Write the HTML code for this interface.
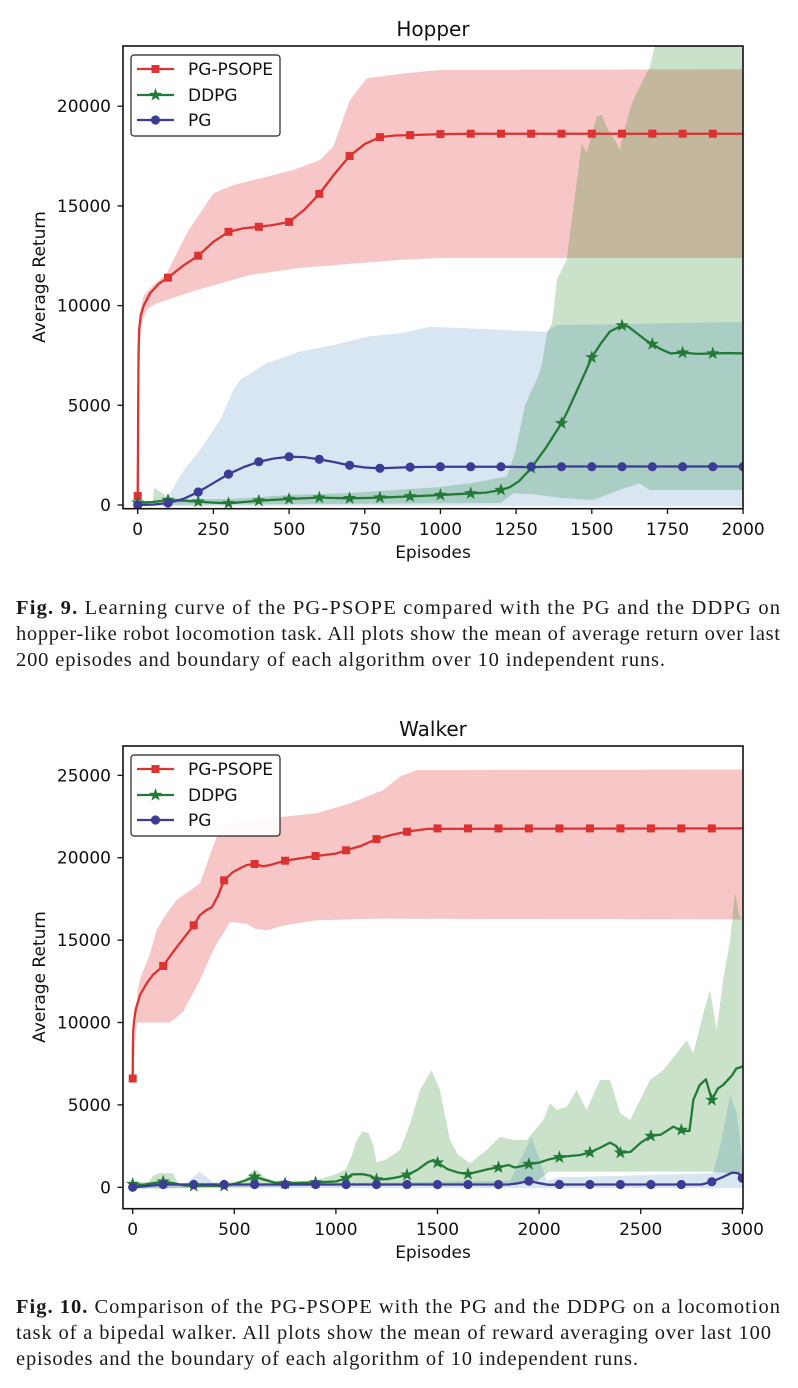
<!DOCTYPE html>
<html>
<head>
<meta charset="utf-8">
<style>
html,body{margin:0;padding:0;background:#fff;}
body{width:798px;height:1388px;overflow:hidden;position:relative;}
svg{position:absolute;left:0;top:0;}
.ax{font-family:"DejaVu Sans","Liberation Sans",sans-serif;font-size:17px;fill:#111;}
.ttl{font-family:"DejaVu Sans","Liberation Sans",sans-serif;font-size:20px;fill:#111;}
.cap{font-family:"Liberation Serif",serif;font-size:20.5px;fill:#1a1a1a;}
.ln{fill:none;stroke-width:2.3;vector-effect:non-scaling-stroke;stroke-linejoin:round;stroke-linecap:round;}
</style>
</head>
<body>
<svg width="798" height="1388" viewBox="0 0 798 1388" xmlns="http://www.w3.org/2000/svg">
<defs>
<clipPath id="c1"><rect x="123" y="46" width="620" height="462.7"/></clipPath>
<clipPath id="c2"><rect x="123" y="746" width="620" height="462.7"/></clipPath>
<rect id="sq" x="-4" y="-4" width="8" height="8" fill="#dc3232"/>
<circle id="ci" r="4.6" fill="#3c3c96"/>
<polygon id="st" points="0,-7 1.65,-2.27 6.66,-2.16 2.66,0.87 4.11,5.66 0,2.8 -4.11,5.66 -2.66,0.87 -6.66,-2.16 -1.65,-2.27" fill="#237a37"/>
</defs>

<!-- ===================== HOPPER ===================== -->
<text class="ttl" x="433" y="36" text-anchor="middle">Hopper</text>
<g clip-path="url(#c1)">
 <g transform="translate(137.7 505) scale(0.3027 -0.01994)">
  <polygon fill="rgb(225,45,45)" fill-opacity="0.27" points="0,500 2,8500 5,9500 20,10500 50,11000 96,11620 162,13630 250,15630 316,16050 426,16460 514,16800 602,17300 646,17970 701,20310 757,21400 866,21620 1000,21820 2000,21850 2000,12390 1000,12390 866,12290 700,12090 536,11890 370,11530 200,10800 100,10300 60,10100 30,9800 10,9000 3,6500 0,0"/>
  <polygon fill="rgb(40,140,40)" fill-opacity="0.25" points="0,150 50,150 55,900 60,800 80,600 100,350 150,300 300,300 500,500 700,600 900,800 1000,900 1100,1100 1219,1420 1246,2600 1280,5000 1302,5770 1318,6270 1335,7000 1352,8630 1369,9130 1385,11280 1417,12290 1440,15000 1467,18140 1483,17640 1516,19470 1533,19560 1549,18970 1582,18140 1593,17800 1604,18640 1626,19810 1637,20310 1692,21980 1708,23000 1730,25000 2000,25000 2000,750 1690,750 1658,1090 1600,800 1505,250 1400,350 1300,550 1241,590 1200,100 0,0"/>
  <polygon fill="rgb(31,119,180)" fill-opacity="0.18" points="0,0 80,0 107,590 150,1700 206,2760 272,4260 316,5770 338,6270 426,7110 536,7690 646,8020 757,8440 866,8610 966,8930 1100,8860 1197,8780 1351,8690 1384,9030 1527,9050 2000,9190 2000,-50 0,-50"/>
  <polyline class="ln" stroke="#dc3232" points="0,450 1,3000 2,6000 3,7800 5,8800 10,9500 20,10000 40,10600 70,11100 100,11400 150,12000 200,12500 250,13200 300,13700 350,13880 400,13950 450,14050 500,14200 550,14800 600,15600 650,16600 700,17500 750,18100 800,18450 850,18530 900,18550 1000,18600 1100,18620 2000,18620"/>
  <polyline class="ln" stroke="#237a37" points="0,115 50,150 100,250 150,220 200,170 250,120 300,85 350,150 400,215 450,260 500,300 550,340 600,370 650,350 700,335 750,350 800,370 850,400 900,430 1000,500 1100,580 1150,620 1200,750 1230,900 1260,1200 1300,1850 1350,2900 1400,4100 1420,4700 1450,5700 1480,6700 1500,7400 1530,8100 1560,8700 1600,9000 1620,8950 1650,8600 1680,8250 1700,8070 1730,7800 1760,7600 1800,7640 1850,7580 1900,7600 1950,7620 2000,7600"/>
  <polyline class="ln" stroke="#3c3c96" points="0,0 50,20 100,100 150,300 200,650 250,1100 300,1550 350,1900 400,2170 450,2330 500,2420 550,2400 600,2290 650,2150 700,1990 750,1880 800,1840 900,1900 1000,1920 1200,1920 1300,1900 1400,1930 2000,1930"/>
 </g>
 <use href="#sq" x="137.7" y="496.0"/><use href="#sq" x="168.0" y="277.7"/><use href="#sq" x="198.2" y="255.7"/><use href="#sq" x="228.5" y="231.8"/><use href="#sq" x="258.8" y="226.8"/><use href="#sq" x="289.1" y="221.9"/><use href="#sq" x="319.3" y="193.9"/><use href="#sq" x="349.6" y="156.0"/><use href="#sq" x="379.9" y="137.1"/><use href="#sq" x="410.1" y="135.1"/><use href="#sq" x="440.4" y="134.1"/><use href="#sq" x="470.7" y="133.7"/><use href="#sq" x="501.0" y="133.7"/><use href="#sq" x="531.2" y="133.7"/><use href="#sq" x="561.5" y="133.7"/><use href="#sq" x="591.8" y="133.7"/><use href="#sq" x="622.0" y="133.7"/><use href="#sq" x="652.3" y="133.7"/><use href="#sq" x="682.6" y="133.7"/><use href="#sq" x="712.8" y="133.7"/>
 <use href="#st" x="137.7" y="502.7"/><use href="#st" x="168.0" y="500.0"/><use href="#st" x="198.2" y="501.6"/><use href="#st" x="228.5" y="503.3"/><use href="#st" x="258.8" y="500.7"/><use href="#st" x="289.1" y="499.0"/><use href="#st" x="319.3" y="497.6"/><use href="#st" x="349.6" y="498.3"/><use href="#st" x="379.9" y="497.6"/><use href="#st" x="410.1" y="496.4"/><use href="#st" x="440.4" y="495.0"/><use href="#st" x="470.7" y="493.4"/><use href="#st" x="501.0" y="490.0"/><use href="#st" x="531.2" y="468.1"/><use href="#st" x="561.5" y="423.2"/><use href="#st" x="591.8" y="357.4"/><use href="#st" x="622.0" y="325.5"/><use href="#st" x="652.3" y="344.1"/><use href="#st" x="682.6" y="352.7"/><use href="#st" x="712.8" y="353.5"/>
 <use href="#ci" x="137.7" y="505.0"/><use href="#ci" x="168.0" y="503.0"/><use href="#ci" x="198.2" y="492.0"/><use href="#ci" x="228.5" y="474.1"/><use href="#ci" x="258.8" y="461.7"/><use href="#ci" x="289.1" y="456.7"/><use href="#ci" x="319.3" y="459.3"/><use href="#ci" x="349.6" y="465.3"/><use href="#ci" x="379.9" y="468.3"/><use href="#ci" x="410.1" y="467.1"/><use href="#ci" x="440.4" y="466.7"/><use href="#ci" x="470.7" y="466.7"/><use href="#ci" x="501.0" y="466.7"/><use href="#ci" x="531.2" y="466.7"/><use href="#ci" x="561.5" y="466.7"/><use href="#ci" x="591.8" y="466.7"/><use href="#ci" x="622.0" y="466.7"/><use href="#ci" x="652.3" y="466.7"/><use href="#ci" x="682.6" y="466.7"/><use href="#ci" x="712.8" y="466.7"/><use href="#ci" x="743.1" y="466.7"/>
</g>
<rect x="123" y="46" width="620" height="462.7" fill="none" stroke="#111" stroke-width="1.6"/>
<g stroke="#111" stroke-width="1.3">
 <line x1="117.5" y1="505" x2="123" y2="505"/><line x1="117.5" y1="405.3" x2="123" y2="405.3"/><line x1="117.5" y1="305.6" x2="123" y2="305.6"/><line x1="117.5" y1="205.9" x2="123" y2="205.9"/><line x1="117.5" y1="106.2" x2="123" y2="106.2"/>
 <line x1="137.7" y1="508.7" x2="137.7" y2="514"/><line x1="213.4" y1="508.7" x2="213.4" y2="514"/><line x1="289.1" y1="508.7" x2="289.1" y2="514"/><line x1="364.8" y1="508.7" x2="364.8" y2="514"/><line x1="440.4" y1="508.7" x2="440.4" y2="514"/><line x1="516.1" y1="508.7" x2="516.1" y2="514"/><line x1="591.8" y1="508.7" x2="591.8" y2="514"/><line x1="667.5" y1="508.7" x2="667.5" y2="514"/><line x1="743.1" y1="508.7" x2="743.1" y2="514"/>
</g>
<g class="ax" text-anchor="end">
 <text x="111" y="511">0</text><text x="111" y="411.3">5000</text><text x="111" y="311.6">10000</text><text x="111" y="211.9">15000</text><text x="111" y="112.2">20000</text>
</g>
<g class="ax" text-anchor="middle">
 <text x="137.7" y="535">0</text><text x="213.4" y="535">250</text><text x="289.1" y="535">500</text><text x="364.8" y="535">750</text><text x="440.4" y="535">1000</text><text x="516.1" y="535">1250</text><text x="591.8" y="535">1500</text><text x="667.5" y="535">1750</text><text x="743.1" y="535">2000</text>
 <text x="433" y="558">Episodes</text>
 <text transform="translate(45 277) rotate(-90)" x="0" y="0">Average Return</text>
</g>
<rect x="131" y="55" width="149" height="81" rx="3" fill="#fff" fill-opacity="0.9" stroke="#222" stroke-width="1.2"/>
<line x1="137" y1="69" x2="174" y2="69" stroke="#dc3232" stroke-width="2.3"/><use href="#sq" x="155.5" y="69"/>
<line x1="137" y1="95" x2="174" y2="95" stroke="#237a37" stroke-width="2.3"/><use href="#st" x="155.5" y="95"/>
<line x1="137" y1="120" x2="174" y2="120" stroke="#3c3c96" stroke-width="2.3"/><use href="#ci" x="155.5" y="120"/>
<g class="ax"><text x="188" y="75">PG-PSOPE</text><text x="188" y="101">DDPG</text><text x="188" y="126">PG</text></g>

<text class="cap" x="16" y="614" textLength="764" lengthAdjust="spacing"><tspan font-weight="bold">Fig. 9.</tspan> Learning curve of the PG-PSOPE compared with the PG and the DDPG on</text>
<text class="cap" x="16" y="640" textLength="764" lengthAdjust="spacing">hopper-like robot locomotion task. All plots show the mean of average return over last</text>
<text class="cap" x="16" y="666" textLength="649" lengthAdjust="spacing">200 episodes and boundary of each algorithm over 10 independent runs.</text>

<!-- ===================== WALKER ===================== -->
<text class="ttl" x="433" y="736" text-anchor="middle">Walker</text>
<g clip-path="url(#c2)">
 <g transform="translate(132.7 1187.3) scale(0.2032 -0.01648)">
  <polygon fill="rgb(225,45,45)" fill-opacity="0.27" points="0,6600 15,10000 25,12000 40,12800 80,14000 118,15610 160,16500 216,17430 280,18000 331,18440 370,19800 413,21270 462,21980 560,22250 660,22390 905,22700 1070,23300 1233,24110 1315,24920 1400,25320 3000,25350 3000,16250 1200,16300 900,16200 750,15900 660,15600 600,15700 560,16000 480,16100 400,14500 331,12580 248,10650 184,10000 20,10000 0,6600"/>
  <polygon fill="rgb(40,140,40)" fill-opacity="0.25" points="0,300 80,350 100,700 130,850 200,850 220,250 300,250 450,300 550,400 580,900 610,1050 650,600 700,400 900,400 950,600 1000,800 1050,1100 1080,2000 1100,2800 1130,3370 1160,3300 1185,2500 1200,1500 1250,1700 1315,2260 1365,3880 1414,5900 1471,7120 1512,5900 1561,2870 1600,2000 1660,1460 1742,2260 1808,3070 1873,2870 1939,2870 2021,4080 2054,5100 2087,4700 2136,4890 2185,5900 2234,4700 2300,6510 2349,6510 2399,4490 2448,4080 2497,5300 2546,6510 2611,7120 2677,8130 2726,8940 2759,8130 2808,10560 2841,11970 2874,9550 2906,12580 2940,15000 2964,17840 2985,16500 3000,16200 3000,800 2900,900 2850,950 2050,950 1980,300 0,-100"/>
  <polygon fill="rgb(31,119,180)" fill-opacity="0.18" points="0,100 250,150 268,300 330,950 396,300 450,150 1857,400 1963,3070 2038,400 2100,600 2857,850 2900,3000 2940,5600 2973,4490 2997,2000 3000,1500 3000,-50 0,-50"/>
  <polyline class="ln" stroke="#dc3232" points="0,6600 1,8500 3,9500 6,10000 15,10800 36,11670 70,12400 100,12900 150,13430 200,14300 250,15100 300,15900 330,16500 360,16800 390,17000 420,17700 450,18630 490,19100 528,19360 560,19550 600,19620 640,19480 675,19550 750,19820 900,20100 1000,20250 1050,20450 1120,20700 1200,21130 1280,21400 1350,21580 1450,21750 3000,21780"/>
  <polyline class="ln" stroke="#237a37" points="0,200 50,150 100,250 150,340 200,250 250,120 300,80 350,100 400,90 450,80 500,200 550,400 600,640 650,450 700,280 750,240 800,260 900,300 1000,350 1050,550 1080,780 1130,800 1170,700 1200,480 1250,500 1300,600 1350,750 1400,1050 1450,1500 1480,1660 1500,1500 1550,1100 1600,900 1650,800 1700,950 1750,1100 1800,1210 1850,1350 1880,1200 1920,1300 1950,1410 2000,1500 2050,1700 2100,1820 2150,1900 2200,1950 2250,2120 2300,2400 2349,2710 2380,2500 2400,2100 2450,2150 2500,2700 2550,3110 2600,3200 2661,3680 2700,3420 2740,3420 2759,5300 2790,6200 2821,6550 2850,5300 2880,6000 2906,6210 2950,6800 2970,7200 3000,7320"/>
  <polyline class="ln" stroke="#3c3c96" points="0,0 150,170 1850,170 1900,250 1950,380 2000,250 2050,150 2100,170 2800,170 2850,340 2900,600 2950,890 2980,850 3000,560"/>
 </g>
 <use href="#sq" x="132.7" y="1078.5"/><use href="#sq" x="163.2" y="966.0"/><use href="#sq" x="193.7" y="925.3"/><use href="#sq" x="224.1" y="880.3"/><use href="#sq" x="254.6" y="864.0"/><use href="#sq" x="285.1" y="860.7"/><use href="#sq" x="315.6" y="856.0"/><use href="#sq" x="346.1" y="850.3"/><use href="#sq" x="376.5" y="839.1"/><use href="#sq" x="407.0" y="831.7"/><use href="#sq" x="437.5" y="828.4"/><use href="#sq" x="468.0" y="828.4"/><use href="#sq" x="498.5" y="828.4"/><use href="#sq" x="528.9" y="828.4"/><use href="#sq" x="559.4" y="828.4"/><use href="#sq" x="589.9" y="828.4"/><use href="#sq" x="620.4" y="828.4"/><use href="#sq" x="650.9" y="828.4"/><use href="#sq" x="681.3" y="828.4"/><use href="#sq" x="711.8" y="828.4"/>
 <use href="#st" x="132.7" y="1184.0"/><use href="#st" x="163.2" y="1181.7"/><use href="#st" x="193.7" y="1186.0"/><use href="#st" x="224.1" y="1186.0"/><use href="#st" x="254.6" y="1176.8"/><use href="#st" x="285.1" y="1183.3"/><use href="#st" x="315.6" y="1182.4"/><use href="#st" x="346.1" y="1178.2"/><use href="#st" x="376.5" y="1179.4"/><use href="#st" x="407.0" y="1174.9"/><use href="#st" x="437.5" y="1162.6"/><use href="#st" x="468.0" y="1174.1"/><use href="#st" x="498.5" y="1167.4"/><use href="#st" x="528.9" y="1164.2"/><use href="#st" x="559.4" y="1157.3"/><use href="#st" x="589.9" y="1152.4"/><use href="#st" x="620.4" y="1152.7"/><use href="#st" x="650.9" y="1136.0"/><use href="#st" x="681.3" y="1130.0"/><use href="#st" x="711.8" y="1100.0"/>
 <use href="#ci" x="132.7" y="1187.3"/><use href="#ci" x="163.2" y="1184.5"/><use href="#ci" x="193.7" y="1184.5"/><use href="#ci" x="224.1" y="1184.5"/><use href="#ci" x="254.6" y="1184.5"/><use href="#ci" x="285.1" y="1184.5"/><use href="#ci" x="315.6" y="1184.5"/><use href="#ci" x="346.1" y="1184.5"/><use href="#ci" x="376.5" y="1184.5"/><use href="#ci" x="407.0" y="1184.5"/><use href="#ci" x="437.5" y="1184.5"/><use href="#ci" x="468.0" y="1184.5"/><use href="#ci" x="498.5" y="1184.5"/><use href="#ci" x="528.9" y="1181.0"/><use href="#ci" x="559.4" y="1184.5"/><use href="#ci" x="589.9" y="1184.5"/><use href="#ci" x="620.4" y="1184.5"/><use href="#ci" x="650.9" y="1184.5"/><use href="#ci" x="681.3" y="1184.5"/><use href="#ci" x="711.8" y="1181.7"/><use href="#ci" x="742.3" y="1178.1"/>
</g>
<rect x="123" y="746" width="620" height="462.7" fill="none" stroke="#111" stroke-width="1.6"/>
<g stroke="#111" stroke-width="1.3">
 <line x1="117.5" y1="1187.3" x2="123" y2="1187.3"/><line x1="117.5" y1="1104.9" x2="123" y2="1104.9"/><line x1="117.5" y1="1022.5" x2="123" y2="1022.5"/><line x1="117.5" y1="940.1" x2="123" y2="940.1"/><line x1="117.5" y1="857.7" x2="123" y2="857.7"/><line x1="117.5" y1="775.3" x2="123" y2="775.3"/>
 <line x1="132.7" y1="1208.7" x2="132.7" y2="1214"/><line x1="234.3" y1="1208.7" x2="234.3" y2="1214"/><line x1="335.9" y1="1208.7" x2="335.9" y2="1214"/><line x1="437.5" y1="1208.7" x2="437.5" y2="1214"/><line x1="539.1" y1="1208.7" x2="539.1" y2="1214"/><line x1="640.7" y1="1208.7" x2="640.7" y2="1214"/><line x1="742.3" y1="1208.7" x2="742.3" y2="1214"/>
</g>
<g class="ax" text-anchor="end">
 <text x="111" y="1193.3">0</text><text x="111" y="1110.9">5000</text><text x="111" y="1028.5">10000</text><text x="111" y="946.1">15000</text><text x="111" y="863.7">20000</text><text x="111" y="781.3">25000</text>
</g>
<g class="ax" text-anchor="middle">
 <text x="132.7" y="1235">0</text><text x="234.3" y="1235">500</text><text x="335.9" y="1235">1000</text><text x="437.5" y="1235">1500</text><text x="539.1" y="1235">2000</text><text x="640.7" y="1235">2500</text><text x="742.3" y="1235">3000</text>
 <text x="433" y="1258">Episodes</text>
 <text transform="translate(45 977) rotate(-90)" x="0" y="0">Average Return</text>
</g>
<rect x="131" y="755" width="149" height="81" rx="3" fill="#fff" fill-opacity="0.9" stroke="#222" stroke-width="1.2"/>
<line x1="137" y1="769" x2="174" y2="769" stroke="#dc3232" stroke-width="2.3"/><use href="#sq" x="155.5" y="769"/>
<line x1="137" y1="795" x2="174" y2="795" stroke="#237a37" stroke-width="2.3"/><use href="#st" x="155.5" y="795"/>
<line x1="137" y1="820" x2="174" y2="820" stroke="#3c3c96" stroke-width="2.3"/><use href="#ci" x="155.5" y="820"/>
<g class="ax"><text x="188" y="775">PG-PSOPE</text><text x="188" y="801">DDPG</text><text x="188" y="826">PG</text></g>

<text class="cap" x="16" y="1313" textLength="764" lengthAdjust="spacing"><tspan font-weight="bold">Fig. 10.</tspan> Comparison of the PG-PSOPE with the PG and the DDPG on a locomotion</text>
<text class="cap" x="16" y="1339" textLength="755" lengthAdjust="spacing">task of a bipedal walker. All plots show the mean of reward averaging over last 100</text>
<text class="cap" x="16" y="1365" textLength="622" lengthAdjust="spacing">episodes and the boundary of each algorithm of 10 independent runs.</text>
</svg>
</body>
</html>
